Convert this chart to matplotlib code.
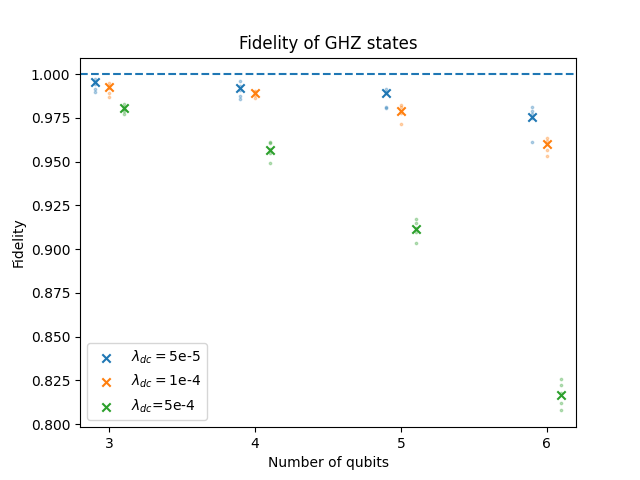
import numpy as np
import matplotlib
matplotlib.use("Agg")
import matplotlib.pyplot as plt

# qubit counts and noise rates
n_qubits = [3, 4, 5, 6]
labels = [r"$\lambda_{dc} = $5e-5", r"$\lambda_{dc} = $1e-4", r"$\lambda_{dc}$=5e-4"]
offsets = [-0.1, 0.0, 0.1]

# mean fidelity (X markers)
mean_5e5 = [0.9955, 0.9918, 0.9890, 0.9756]
mean_1e4 = [0.9928, 0.9890, 0.9790, 0.9598]
mean_5e4 = [0.9806, 0.9566, 0.9113, 0.8166]

# individual runs (faint dots)
runs_5e5 = [[0.9970, 0.9955, 0.9945, 0.9915, 0.9900],
            [0.9958, 0.9930, 0.9910, 0.9876, 0.9860],
            [0.9914, 0.9900, 0.9890, 0.9813, 0.9806],
            [0.9810, 0.9790, 0.9770, 0.9750, 0.9610]]
runs_1e4 = [[0.9947, 0.9930, 0.9920, 0.9890, 0.9870],
            [0.9905, 0.9900, 0.9890, 0.9880, 0.9865],
            [0.9823, 0.9810, 0.9790, 0.9777, 0.9714],
            [0.9636, 0.9620, 0.9600, 0.9566, 0.9530]]
runs_5e4 = [[0.9827, 0.9810, 0.9800, 0.9790, 0.9770],
            [0.9613, 0.9604, 0.9570, 0.9550, 0.9493],
            [0.9171, 0.9150, 0.9120, 0.9100, 0.9033],
            [0.8257, 0.8223, 0.8180, 0.8122, 0.8080]]

means = [mean_5e5, mean_1e4, mean_5e4]
runs = [runs_5e5, runs_1e4, runs_5e4]
colors = ["C0", "C1", "C2"]

fig, ax = plt.subplots(figsize=(6.4, 4.8), dpi=100)

for i in range(3):
    for j, n in enumerate(n_qubits):
        r = runs[i][j]
        ax.scatter([n + offsets[i]] * len(r), r, s=3, color=colors[i], alpha=0.3)
    ax.scatter(np.array(n_qubits) + offsets[i], means[i], marker="x",
               color=colors[i], label=labels[i])

ax.axhline(1.0, linestyle="--", color="C0")

ax.set_xlim(2.8, 6.2)
ax.set_ylim(0.7982, 1.0094)
ax.set_xticks(n_qubits)
ax.set_title("Fidelity of GHZ states")
ax.set_xlabel("Number of qubits")
ax.set_ylabel("Fidelity")
ax.legend(loc="lower left")

plt.savefig("out.png")
